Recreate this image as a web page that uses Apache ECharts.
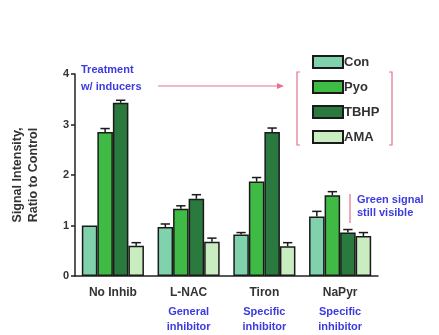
<!DOCTYPE html>
<html>
<head>
<meta charset="utf-8">
<script src="https://cdn.jsdelivr.net/npm/echarts@6/dist/echarts.min.js"></script>
<style>
  html, body { margin: 0; padding: 0; background: #fff; }
  #chart { width: 439px; height: 335px; }
</style>
</head>
<body>
<div id="chart"></div>
<script>
// data
var categories = ['No Inhib', 'L-NAC', 'Tiron', 'NaPyr'];
var subLabels = ['', 'General\ninhibitor', 'Specific\ninhibitor', 'Specific\ninhibitor'];
var seriesNames = ['Con', 'Pyo', 'TBHP', 'AMA'];
var conValues = [1.0, 0.97, 0.82, 1.18];
var pyoValues = [2.85, 1.33, 1.87, 1.6];
var tbhpValues = [3.43, 1.53, 2.85, 0.86];
var amaValues = [0.6, 0.68, 0.59, 0.79];
var conErr = [0, 0.06, 0.04, 0.1];
var pyoErr = [0.07, 0.06, 0.08, 0.07];
var tbhpErr = [0.05, 0.08, 0.08, 0.06];
var amaErr = [0.06, 0.07, 0.07, 0.07];
var yTicks = [0, 1, 2, 3, 4];

var colors = ['#80d2ac', '#3fbb45', '#2a7a3f', '#c9edc0'];
var pink = '#e8708c';
var blue = '#3b3be0';
var font = 'Liberation Sans, Arial, sans-serif';

var allValues = [conValues, pyoValues, tbhpValues, amaValues];
var allErr = [conErr, pyoErr, tbhpErr, amaErr];
var catGap = 0.18;

var myChart = echarts.init(document.getElementById('chart'));

var series = [];
seriesNames.forEach(function (name, i) {
    series.push({
        name: name,
        type: 'bar',
        data: allValues[i],
        barGap: '0%',
        barCategoryGap: (catGap * 100) + '%',
        itemStyle: { color: colors[i], borderColor: '#1a1a1a', borderWidth: 1.5 },
        emphasis: { disabled: true }
    });
});

// error bars
seriesNames.forEach(function (name, i) {
    var errData = allValues[i].map(function (v, k) {
        return [k, v, allErr[i][k]];
    });
    series.push({
        type: 'custom',
        silent: true,
        z: 5,
        data: errData,
        renderItem: function (params, api) {
            var k = api.value(0), v = api.value(1), e = api.value(2);
            if (!e) return null;
            var band = api.size([1, 0])[0];
            var bw = band * (1 - catGap) / 4;
            var base = api.coord([k, v]);
            var x = base[0] + (i - 1.5) * bw;
            var top = api.coord([k, v + e])[1];
            var capW = bw * 0.3;
            return {
                type: 'group',
                children: [
                    { type: 'line', shape: { x1: x, y1: base[1], x2: x, y2: top }, style: { stroke: '#1a1a1a', lineWidth: 1.5 } },
                    { type: 'line', shape: { x1: x - capW, y1: top, x2: x + capW, y2: top }, style: { stroke: '#1a1a1a', lineWidth: 1.5 } }
                ]
            };
        }
    });
});

var option = {
    backgroundColor: '#fff',
    animation: false,
    color: colors,
    grid: { left: 75, right: 61, top: 74, bottom: 59 },
    legend: {
        data: seriesNames,
        orient: 'vertical',
        left: 307,
        top: 50,
        itemWidth: 30,
        itemHeight: 12,
        itemGap: 11,
        icon: 'rect',
        textStyle: { fontFamily: font, fontWeight: 'bold', fontSize: 13, color: '#333', padding: [0, 0, 0, -4] }
    },
    xAxis: {
        type: 'category',
        data: categories,
        axisLine: { lineStyle: { color: '#222', width: 1.5 } },
        axisTick: { show: false },
        axisLabel: {
            interval: 0,
            margin: 6,
            formatter: function (val, idx) {
                var s = '{a|' + val + '}';
                if (subLabels[idx]) {
                    s += '\n' + subLabels[idx].split('\n').map(function (t) { return '{b|' + t + '}'; }).join('\n');
                }
                return s;
            },
            rich: {
                a: { fontFamily: font, fontWeight: 'bold', fontSize: 12, color: '#333', lineHeight: 22 },
                b: { fontFamily: font, fontWeight: 'bold', fontSize: 11, color: blue, lineHeight: 15 }
            }
        }
    },
    yAxis: {
        type: 'value',
        min: yTicks[0],
        max: yTicks[yTicks.length - 1],
        interval: 1,
        name: 'Signal Intensity,\nRatio to Control',
        nameLocation: 'middle',
        nameGap: 33,
        nameTextStyle: { fontFamily: font, fontWeight: 'bold', fontSize: 12.5, color: '#333', lineHeight: 16 },
        axisLine: { show: true, lineStyle: { color: '#222', width: 1.5 } },
        axisTick: { show: true, length: 4, lineStyle: { color: '#222', width: 1.5 } },
        splitLine: { show: false },
        axisLabel: { fontFamily: font, fontWeight: 'bold', fontSize: 11, color: '#333', margin: 6 }
    },
    graphic: [
        { type: 'text', left: 81, top: 61, style: { text: 'Treatment\nw/ inducers', font: 'bold 11px ' + font, fill: blue, lineHeight: 17 } },
        { type: 'line', shape: { x1: 158, y1: 86, x2: 282, y2: 86 }, style: { stroke: pink, lineWidth: 1.2 } },
        { type: 'polygon', shape: { points: [[284, 86], [277, 83], [277, 89]] }, style: { fill: pink } },
        { type: 'polyline', shape: { points: [[300, 72], [297, 72], [297, 145], [300, 145]] }, style: { stroke: pink, lineWidth: 1.2, fill: null } },
        { type: 'polyline', shape: { points: [[389, 72], [392, 72], [392, 145], [389, 145]] }, style: { stroke: pink, lineWidth: 1.2, fill: null } },
        { type: 'line', shape: { x1: 350, y1: 194, x2: 350, y2: 223 }, style: { stroke: pink, lineWidth: 1.2 } },
        { type: 'text', left: 357, top: 193, style: { text: 'Green signal\nstill visible', font: 'bold 11px ' + font, fill: blue, lineHeight: 13 } }
    ],
    series: series
};

myChart.setOption(option);
</script>
</body>
</html>
